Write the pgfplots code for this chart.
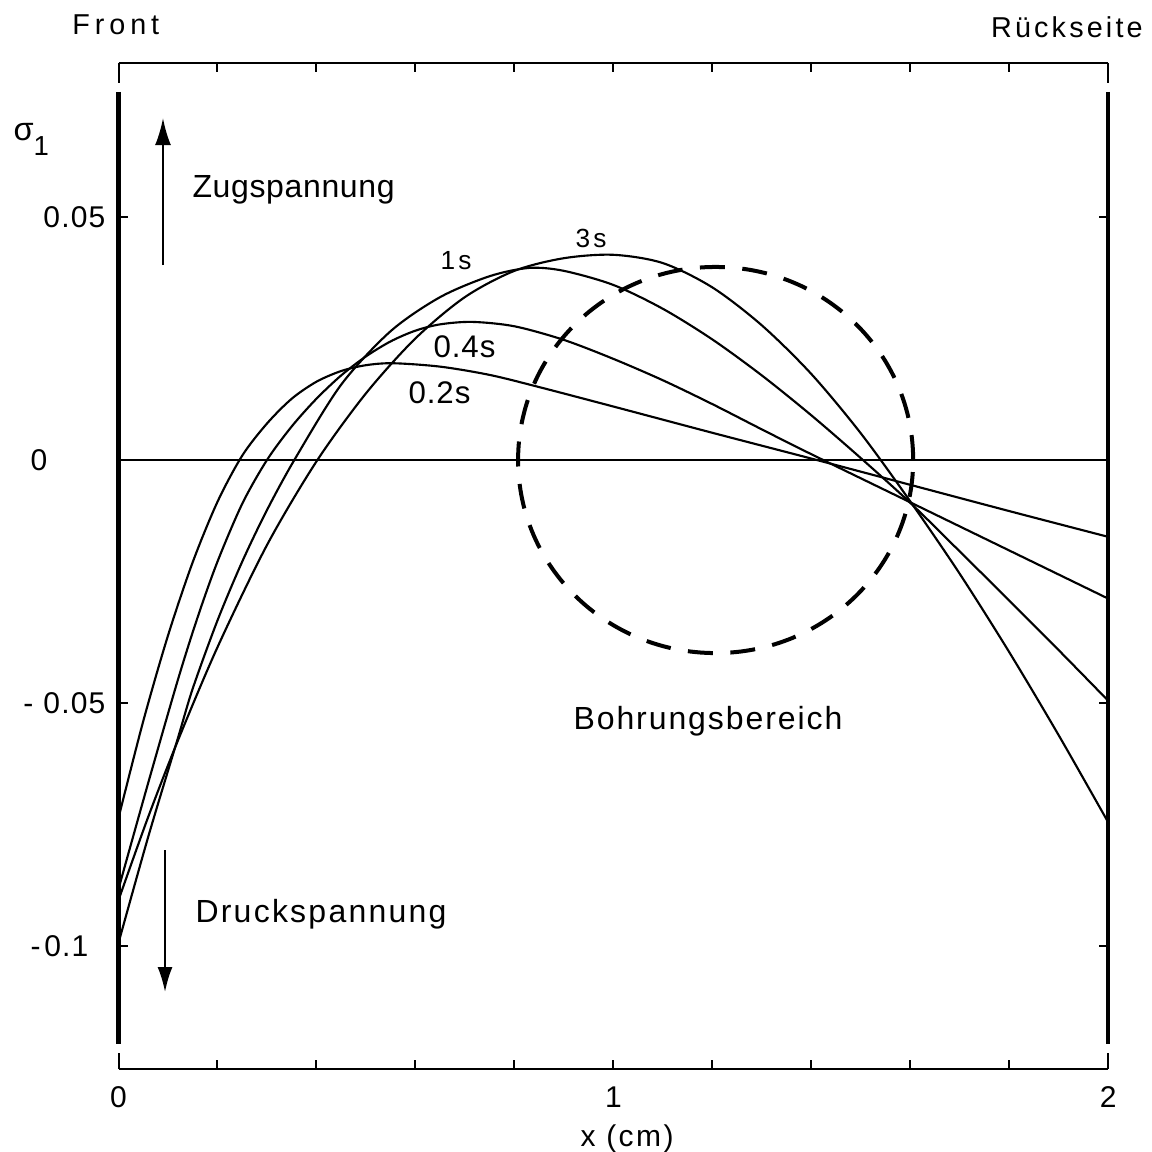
\documentclass[border=0pt]{standalone}
\usepackage{pgfplots}
\pgfplotsset{compat=1.18}
\usepackage{fontspec}
\setmainfont{Liberation Sans}
\usetikzlibrary{arrows.meta}

% stress profiles sigma_1(x) at four times
\pgfplotstableread{
x y
0 -0.0736
0.05 -0.0537
0.10 -0.0361
0.15 -0.0210
0.20 -0.0086
0.25 0.0009
0.30 0.0075
0.35 0.0126
0.40 0.0161
0.45 0.0183
0.50 0.0195
0.555 0.0199
0.65 0.0192
0.75 0.0175
0.85 0.0150
1.00 0.0110
1.20 0.0056
1.40 0.0003
1.60 -0.0051
1.80 -0.0105
2.00 -0.0158
}\tpointtwo
\pgfplotstableread{
x y
0 -0.0882
0.06 -0.0664
0.12 -0.0452
0.16 -0.0323
0.20 -0.0209
0.25 -0.0090
0.30 0.0000
0.35 0.0069
0.40 0.0126
0.45 0.0174
0.50 0.0213
0.55 0.0244
0.60 0.0266
0.65 0.0279
0.715 0.0284
0.80 0.0275
0.90 0.0247
1.00 0.0208
1.10 0.0164
1.20 0.0115
1.30 0.0063
1.40 0.0012
1.60 -0.0087
1.80 -0.0186
2.00 -0.0285
}\tpointfour
\pgfplotstableread{
x y
0 -0.0993
0.06 -0.0775
0.12 -0.0572
0.15 -0.0470
0.20 -0.0330
0.25 -0.0209
0.30 -0.0103
0.357 0.0003
0.45 0.0155
0.55 0.0265
0.65 0.0335
0.75 0.0378
0.83 0.0395
0.90 0.0389
1.00 0.0360
1.10 0.0311
1.20 0.0248
1.30 0.0174
1.40 0.0092
1.50 0.0004
1.60 -0.0088
1.70 -0.0188
1.80 -0.0289
1.90 -0.0391
2.00 -0.0495
}\tone
\pgfplotstableread{
x y
0 -0.0905
0.06 -0.0734
0.12 -0.0577
0.20 -0.0385
0.30 -0.0175
0.40 -0.0003
0.50 0.0137
0.60 0.0250
0.70 0.0335
0.80 0.0389
0.90 0.0415
1.00 0.0422
1.10 0.0405
1.20 0.0355
1.30 0.0277
1.40 0.0177
1.50 0.0055
1.60 -0.0085
1.70 -0.0234
1.80 -0.0395
1.90 -0.0566
2.00 -0.0745
}\tthree

\begin{document}
\begin{tikzpicture}
\begin{axis}[
  width=395.8pt, height=402.4pt, scale only axis,
  xmin=0, xmax=2, ymin=-0.12526, ymax=0.08165,
  axis line style={draw=none},
  clip=false,
  xtick={0,0.2,0.4,0.6,0.8,1,1.2,1.4,1.6,1.8,2},
  xticklabels={0,,,,,1,,,,,2},
  ytick={-0.1,-0.05,0,0.05},
  yticklabels={{\hbox{-\kern1.5pt 0.1\kern6.8pt}},{\hbox{-\kern4pt 0.05}},{\hbox{0\kern23.2pt}},0.05},
  major tick length=3.6pt,
  every tick/.style={black, line width=0.8pt},
  tick label style={font=\fontsize{12}{14}\selectfont\addfontfeature{LetterSpace=4}},
  xticklabel style={yshift=-3.5pt},
  yticklabel style={xshift=-1.7pt},
]
% frame
\draw[line width=0.8pt] (rel axis cs:0,1) -- (rel axis cs:1,1);
\draw[line width=0.8pt] (rel axis cs:0,0) -- (rel axis cs:1,0);
\draw[line width=0.8pt] (rel axis cs:0,1) -- ++(0pt,-8pt);
\draw[line width=0.8pt] (rel axis cs:1,1) -- ++(0pt,-8pt);
\draw[line width=0.8pt] (rel axis cs:0,0) -- ++(0pt,6.4pt);
\draw[line width=0.8pt] (rel axis cs:1,0) -- ++(0pt,6.4pt);
\draw[line width=1.8pt] (axis cs:0,0.0757) -- (axis cs:0,-0.1201);
\draw[line width=1.8pt] (axis cs:2,0.0757) -- (axis cs:2,-0.1201);
\draw[line width=0.8pt] (axis cs:0,0) -- (axis cs:2,0);

% curves
\addplot[smooth, line width=0.85pt, black] table {\tpointtwo};
\addplot[smooth, line width=0.85pt, black] table {\tpointfour};
\addplot[smooth, line width=0.85pt, black] table {\tone};
\addplot[smooth, line width=0.85pt, black] table {\tthree};

% bore region
\draw[line width=1.6pt, dash pattern=on 10pt off 7pt] (axis cs:1.2067,0) ellipse [x radius=0.3992, y radius=0.0397];

% labels
\node[anchor=base west, inner sep=0, font=\fontsize{10.5}{12}\selectfont\addfontfeature{LetterSpace=12}] at (axis cs:0.6498,0.0391) {1s};
\node[anchor=base west, inner sep=0, font=\fontsize{10.5}{12}\selectfont\addfontfeature{LetterSpace=12}] at (axis cs:0.9227,0.0436) {3s};
\node[anchor=base west, inner sep=0, font=\fontsize{12.5}{14}\selectfont\addfontfeature{LetterSpace=3}] at (axis cs:0.6357,0.0210) {0.4s};
\node[anchor=base west, inner sep=0, font=\fontsize{12.5}{14}\selectfont\addfontfeature{LetterSpace=3}] at (axis cs:0.5851,0.0117) {0.2s};
\node[anchor=base west, inner sep=0, font=\fontsize{12.8}{15}\selectfont\addfontfeature{LetterSpace=2}] at (axis cs:0.1486,0.0539) {Zugspannung};
\node[anchor=base west, inner sep=0, font=\fontsize{12.8}{15}\selectfont\addfontfeature{LetterSpace=7}] at (axis cs:0.1546,-0.0952) {Druckspannung};
\node[anchor=base west, inner sep=0, font=\fontsize{12.8}{15}\selectfont\addfontfeature{LetterSpace=6}] at (axis cs:0.9186,-0.0555) {Bohrungsbereich};
\node[anchor=base west, inner sep=0, font=\fontsize{11.5}{13}\selectfont\addfontfeature{LetterSpace=17}] at (axis cs:-0.094,0.0874) {Front};
\node[anchor=base east, inner sep=0, font=\fontsize{11.5}{13}\selectfont\addfontfeature{LetterSpace=11}] at (axis cs:2.0708,0.0868) {Rückseite};
\node[anchor=base west, inner sep=0, font=\fontsize{13}{15}\selectfont] at (axis cs:-0.2132,0.0658) {σ\raisebox{-6pt}{\fontsize{11}{13}\selectfont 1}};
\node[anchor=base, inner sep=0, font=\fontsize{12}{14}\selectfont\addfontfeature{LetterSpace=8}] at (axis cs:1.0278,-0.1411) {x (cm)};

% arrows
\draw[line width=0.8pt, -{Latex[length=10.8pt,width=6.4pt]}] (axis cs:0.0899,0.0401) -- (axis cs:0.0899,0.0703);
\draw[line width=0.8pt, -{Latex[length=10pt,width=6pt]}] (axis cs:0.094,-0.0802) -- (axis cs:0.094,-0.1094);

\coordinate (bbsw) at (axis cs:-0.2395,-0.1423);
\coordinate (bbne) at (axis cs:2.0869,0.0946);
\end{axis}
\pgfresetboundingbox
\path (bbsw) rectangle (bbne);
\end{tikzpicture}
\end{document}
